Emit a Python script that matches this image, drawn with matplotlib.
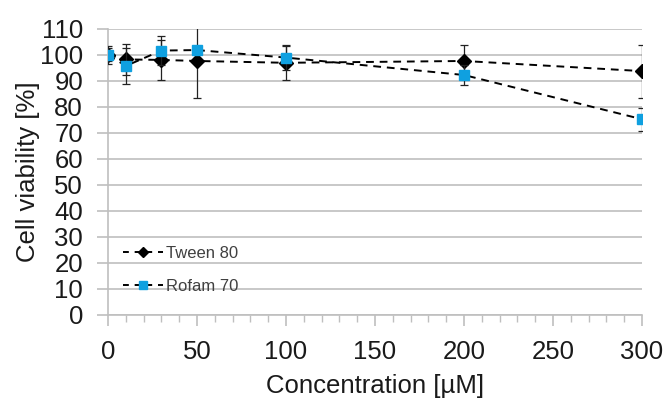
import matplotlib.pyplot as plt
from matplotlib.lines import Line2D

plt.rcParams['font.family'] = ['Liberation Sans', 'DejaVu Sans']

conc = [0, 10, 30, 50, 100, 200, 300]
tween = [100.0, 98.3, 98.1, 97.7, 97.0, 97.7, 93.8]
tween_err = [2.5, 6.0, 7.7, 14.4, 6.6, 6.0, 10.2]
rofam = [100.0, 95.8, 101.7, 101.9, 99.0, 92.3, 75.3]
rofam_err = [3.5, 7.0, 5.6, 0.0, 4.8, 3.8, 4.4]

xticks = [0, 50, 100, 150, 200, 250, 300]
yticks = list(range(0, 111, 10))

fig = plt.figure(figsize=(6.67, 4.01), dpi=100)
ax = fig.add_axes([0.162, 0.2145, 0.8005, 0.7132])

grid_c = '#bfbfbf'
blue = '#0fa0e0'
dash = (0, (4, 3))
ax.errorbar(conc, tween, yerr=tween_err, color='black', ls=dash, lw=1.4,
            marker='D', ms=7.5, mfc='black', mec='black', ecolor='#222222',
            elinewidth=0.9, capsize=3, capthick=0.9, zorder=3)
ax.errorbar(conc, rofam, yerr=rofam_err, color='black', ls=dash, lw=1.4,
            marker='s', ms=7.5, mfc=blue, mec=blue, ecolor='#222222',
            elinewidth=0.9, capsize=3, capthick=0.9, zorder=4)

ax.set_xlim(0, 300)
ax.set_ylim(0, 110)
ax.set_xticks(xticks)
ax.set_xticks(range(0, 301, 10), minor=True)
ax.set_yticks(yticks)
ax.yaxis.grid(True, color=grid_c, lw=1.2)
ax.set_axisbelow(True)

for s in ['top', 'right']:
    ax.spines[s].set_visible(False)
for s in ['left', 'bottom']:
    ax.spines[s].set_color(grid_c)
    ax.spines[s].set_linewidth(1.2)

ax.tick_params(axis='y', length=8, width=1.2, color=grid_c, labelsize=18.5,
               pad=10, labelcolor='#1a1a1a')
ax.tick_params(axis='x', which='major', length=8, width=1.2, color=grid_c,
               labelsize=18.5, pad=10, labelcolor='#1a1a1a')
ax.tick_params(axis='x', which='minor', length=5, width=1.0, color=grid_c)

ax.set_xlabel('Concentration [µM]', fontsize=18.5, labelpad=7, color='#1a1a1a')
ax.set_ylabel('Cell viability [%]', fontsize=18.5, labelpad=0, color='#1a1a1a')

handles = [
    Line2D([], [], color='black', ls=(0, (3, 3)), lw=1.4, marker='D', ms=5,
           mfc='black', mec='black'),
    Line2D([], [], color='black', ls=(0, (3, 3)), lw=1.4, marker='s', ms=6,
           mfc=blue, mec=blue),
]
leg = ax.legend(handles, ['Tween 80', 'Rofam 70'], loc='lower left',
                bbox_to_anchor=(0.0, 0.02), frameon=False, fontsize=12,
                labelspacing=1.1, handlelength=2.4, handletextpad=0.15)
for t in leg.get_texts():
    t.set_color('#404040')

fig.savefig('out.png', dpi=100)
